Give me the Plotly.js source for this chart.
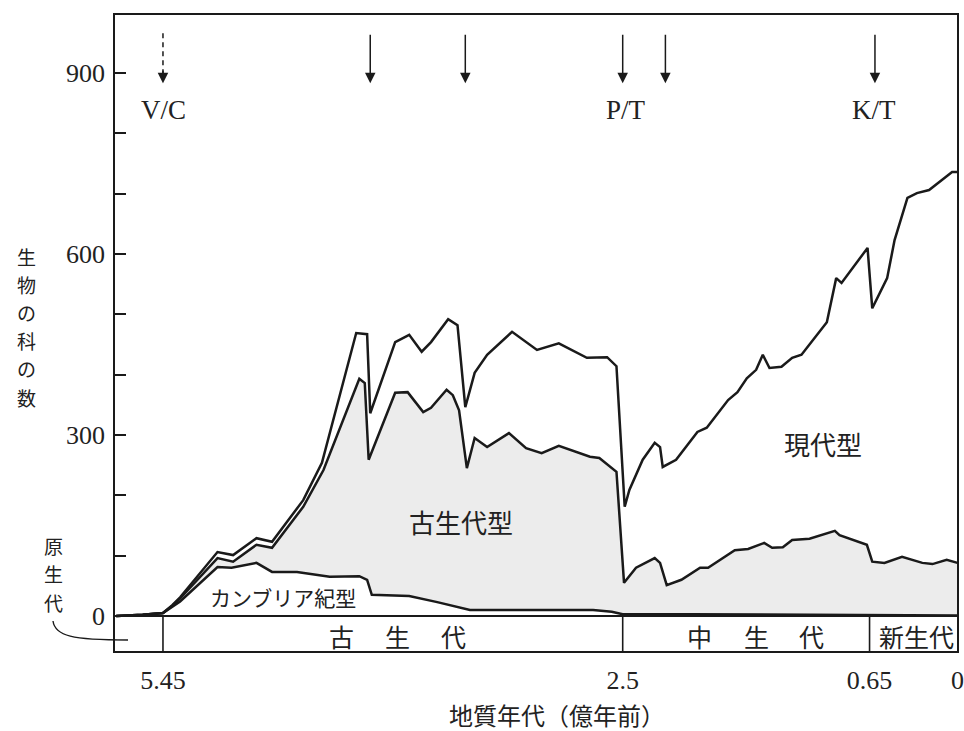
<!DOCTYPE html>
<html>
<head>
<meta charset="utf-8">
<script src="https://cdn.plot.ly/plotly-3.0.1.min.js"></script>
<style>
  html, body { margin: 0; padding: 0; background: #ffffff; }
  #chart { width: 964px; height: 731px; }
</style>
</head>
<body>
<div id="chart"></div>
<script>
// ---- Data (ages in 億年前, values = number of families) ----
const totalAge = [5.75, 5.58, 5.45, 5.39, 5.34, 5.10, 5.00, 4.85, 4.75, 4.55, 4.43, 4.21, 4.14, 4.12, 3.96, 3.87, 3.79, 3.73, 3.62, 3.56, 3.51, 3.45, 3.37, 3.21, 3.05, 2.91, 2.73, 2.60, 2.54, 2.485, 2.45, 2.35, 2.26, 2.22, 2.20, 2.10, 1.94, 1.87, 1.71, 1.64, 1.57, 1.50, 1.45, 1.40, 1.31, 1.23, 1.16, 0.97, 0.90, 0.86, 0.665, 0.63, 0.52, 0.465, 0.37, 0.30, 0.21, 0.11, 0.04, 0];
const totalVal = [0, 2, 5, 18, 31, 106, 101, 129, 123, 192, 254, 469, 467, 336, 454, 466, 438, 454, 492, 482, 346, 403, 433, 471, 441, 452, 428, 429, 414, 181, 209, 259, 287, 280, 247, 259, 305, 312, 358, 371, 394, 408, 433, 411, 413, 428, 433, 487, 560, 552, 610, 510, 560, 623, 693, 701, 706, 723, 736, 736];

const paleoAge = [5.75, 5.58, 5.45, 5.39, 5.34, 5.10, 5.00, 4.85, 4.75, 4.55, 4.42, 4.19, 4.155, 4.13, 3.96, 3.88, 3.78, 3.73, 3.63, 3.59, 3.55, 3.50, 3.45, 3.37, 3.23, 3.12, 3.02, 2.91, 2.71, 2.65, 2.54, 2.49, 2.40, 2.26, 2.22, 2.17, 2.06, 1.92, 1.86, 1.66, 1.56, 1.44, 1.38, 1.30, 1.23, 1.10, 0.91, 0.875, 0.67, 0.63, 0.54, 0.41, 0.26, 0.185, 0.08, 0];
const paleoVal = [0, 2, 5, 17, 29, 96, 90, 118, 113, 181, 242, 393, 386, 259, 370, 371, 338, 345, 375, 366, 341, 245, 295, 280, 303, 278, 270, 282, 264, 262, 239, 55, 80, 96, 88, 51, 60, 80, 80, 109, 111, 121, 113, 114, 126, 128, 141, 134, 118, 90, 88, 98, 88, 86, 93, 88];

const cambAge = [5.75, 5.58, 5.45, 5.39, 5.34, 5.10, 5.01, 4.85, 4.75, 4.59, 4.46, 4.38, 4.19, 4.14, 4.11, 3.87, 3.69, 3.55, 3.48, 3.12, 2.69, 2.57, 2.50, 2.0, 1.0, 0.5, 0];
const cambVal = [0, 2, 5, 15, 24, 81, 80, 88, 73, 73, 68, 65, 66, 60, 35, 33, 23, 15, 10, 10, 10, 7, 3, 3, 2, 1, 1];

const tickAges = [5.45, 2.5, 0.65, 0];
const tickLabels = ['5.45', '2.5', '0.65', '0'];
const yTickVals = [0, 100, 200, 300, 400, 500, 600, 700, 800, 900];
const yTickText = ['0', '', '', '300', '', '', '600', '', '', '900'];

const extinctionAges = [4.12, 3.51, 2.50, 2.18, 0.61];
const vcAge = 5.45;
const eraBounds = [5.45, 2.5, 0.65];

// ---- Piecewise time scale of the original figure ----
const U_PALEO = 460, U_MESO = 707, U_END = 795;
function ageToU(a) {
  if (a >= 2.5) return (5.45 - a) * (U_PALEO / 2.95);
  if (a >= 0.65) return U_PALEO + (2.5 - a) * ((U_MESO - U_PALEO) / 1.85);
  return U_MESO + (0.65 - a) * ((U_END - U_MESO) / 0.65);
}

const W = 964, H = 731;
const M = { l: 114, r: 6, t: 14, b: 79 };
const PW = W - M.l - M.r, PH = H - M.t - M.b;
const PX = px => (px - M.l) / PW;
const PY = py => (H - M.b - py) / PH;
const Y_RANGE = [-59.7, 997.8];
const X_RANGE = [-49, U_END + 0.5];

const ink = '#1a1a1a';
const txtColor = '#222222';
const JP = 'Noto Sans CJK JP, sans-serif';
const SERIF = 'Liberation Serif, DejaVu Serif, serif';

const lineStyle = { color: ink, width: 2.5 };

const traces = [
  { x: cambAge.map(ageToU), y: cambVal, type: 'scatter', mode: 'lines', line: lineStyle, name: 'カンブリア紀型', hoverinfo: 'skip' },
  { x: paleoAge.map(ageToU), y: paleoVal, type: 'scatter', mode: 'lines', line: lineStyle, fill: 'tonexty', fillcolor: '#ececec', name: '古生代型', hoverinfo: 'skip' },
  { x: totalAge.map(ageToU), y: totalVal, type: 'scatter', mode: 'lines', line: lineStyle, name: '現代型', hoverinfo: 'skip' }
];

function txt(text, px, py, size, family) {
  return { text: text, x: PX(px), y: PY(py), xref: 'paper', yref: 'paper', showarrow: false,
           xanchor: 'center', yanchor: 'middle', borderpad: 0,
           font: { size: size, family: family, color: txtColor } };
}
function vert(str, px, py0, pitch, size) {
  return Array.from(str).map((c, i) => txt(c, px, py0 + i * pitch, size, JP));
}

const annotations = [];
// in-plot labels
annotations.push(txt('古生代型', 461, 521, 26, JP));
annotations.push(txt('現代型', 823, 443, 26, JP));
annotations.push(txt('カンブリア紀型', 283, 597, 21, JP));
// era band labels
[['古', 341], ['生', 397], ['代', 453], ['中', 699], ['生', 756], ['代', 811]].forEach(d => annotations.push(txt(d[0], d[1], 636, 25, JP)));
annotations.push(txt('新生代', 916, 636, 25, JP));
// event labels
annotations.push(txt('V/C', 163, 110, 27, SERIF));
annotations.push(txt('P/T', 626, 110, 27, SERIF));
annotations.push(txt('K/T', 874, 110, 27, SERIF));
// axis titles
annotations.push(txt('地質年代（億年前）', 557, 715, 24, JP));
vert('生物の科の数', 26, 256, 28.2, 19).forEach(a => annotations.push(a));
vert('原生代', 53, 545, 28.5, 19).forEach(a => annotations.push(a));

// extinction arrows
extinctionAges.forEach(a => annotations.push({
  x: ageToU(a), y: 883, xref: 'x', yref: 'y', ax: 0, ay: -50, text: '', showarrow: true,
  arrowhead: 2, arrowsize: 1.4, arrowwidth: 1.5, arrowcolor: ink, standoff: 0
}));
annotations.push({
  x: ageToU(vcAge), y: 883, xref: 'x', yref: 'y', ax: 0, ay: -14, text: '', showarrow: true,
  arrowhead: 2, arrowsize: 1.4, arrowwidth: 1.5, arrowcolor: ink, standoff: 0
});

const shapes = [
  // frame
  { type: 'rect', xref: 'paper', yref: 'paper', x0: 0, x1: 1, y0: 0, y1: 1, line: { color: ink, width: 2 } },
  // zero line
  { type: 'line', xref: 'paper', yref: 'y', x0: 0, x1: 1, y0: 0, y1: 0, line: { color: ink, width: 2.2 } },
  // dashed V/C arrow shaft
  { type: 'line', xref: 'x', yref: 'y', x0: ageToU(vcAge), x1: ageToU(vcAge), y0: 966, y1: 900, line: { color: ink, width: 1.5, dash: '5px,4px' } },
  // pointer from 原生代
  { type: 'path', xref: 'paper', yref: 'paper',
    path: 'M ' + PX(53) + ' ' + PY(621) + ' C ' + PX(55) + ' ' + PY(636) + ' ' + PX(72) + ' ' + PY(640) + ' ' + PX(128) + ' ' + PY(640),
    line: { color: ink, width: 1.4 } }
];
eraBounds.forEach(a => shapes.push({
  type: 'line', xref: 'x', yref: 'y', x0: ageToU(a), x1: ageToU(a), y0: 0, y1: Y_RANGE[0],
  line: { color: ink, width: 1.6 }
}));

const layout = {
  width: W, height: H,
  margin: M,
  paper_bgcolor: '#ffffff', plot_bgcolor: '#ffffff',
  showlegend: false,
  hovermode: false,
  xaxis: {
    range: X_RANGE, showgrid: false, zeroline: false, showline: false,
    tickmode: 'array', tickvals: tickAges.map(ageToU), ticktext: tickLabels,
    ticks: '', ticklabelstandoff: 10,
    tickfont: { family: SERIF, size: 26, color: txtColor }
  },
  yaxis: {
    range: Y_RANGE, showgrid: false, zeroline: false, showline: false,
    tickmode: 'array', tickvals: yTickVals, ticktext: yTickText,
    ticks: 'inside', ticklen: 12, tickwidth: 2, tickcolor: ink, ticklabelstandoff: 8,
    tickfont: { family: SERIF, size: 26, color: txtColor }
  },
  shapes: shapes,
  annotations: annotations
};

Plotly.newPlot('chart', traces, layout, { staticPlot: true, displayModeBar: false });
</script>
</body>
</html>
